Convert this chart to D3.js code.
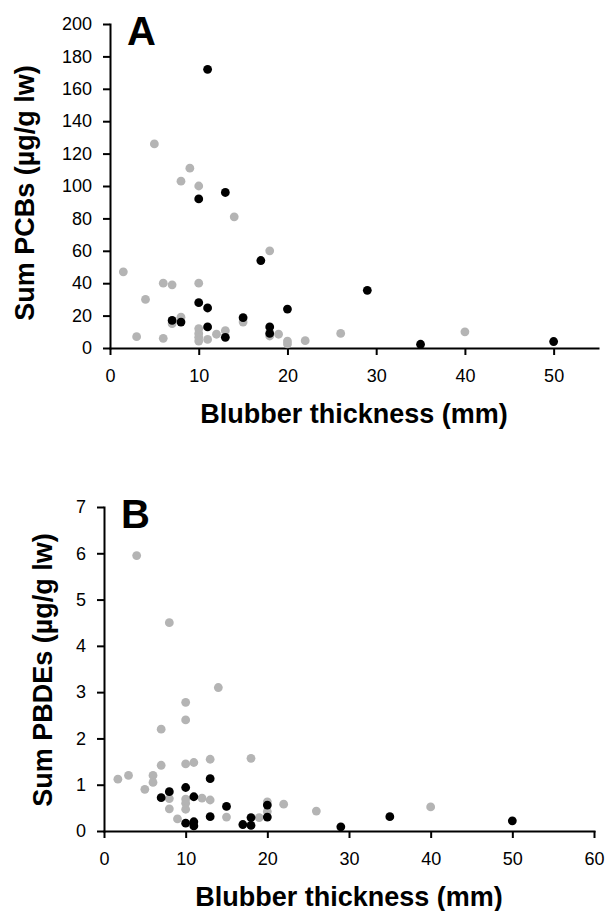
<!DOCTYPE html>
<html lang='en'>
<head>
    <meta charset='UTF-8'>
    <script src='https://d3js.org/d3.v7.min.js'></script>
    <title>Blubber thickness vs PCBs and PBDEs</title>
    <style>
      body { margin: 0; background: white; }
      text { font-family: 'Liberation Sans', Arial, sans-serif; fill: black; }
      .axis path, .axis line { stroke: black; stroke-width: 2px; }
      .axis text { font-size: 18px; }
    </style>
</head>

<body>
<svg id='chart' width='605' height='911'></svg>

<script>
// panel A: sum PCBs (ug/g lw) against blubber thickness (mm)
let pcbGrey = [[1.5,47],[3,7],[4,30],[5,126],[6,40],[6,6],[7,39],[7,15],[8,103],[8,19],
  [9,111],[10,100],[10,40],[10,12],[10,9],[10,6.6],[10,4.3],[11,5.3],[12,8.5],[13,10.7],
  [14,81],[15,16],[18,60],[18,7.4],[19,8.5],[20,4.3],[20,2.5],[22,4.5],[26,9],[40,10]]
let pcbBlack = [[7,17],[8,16],[10,92],[10,28],[11,172],[11,24.7],[11,13],[13,96],[13,6.6],
  [15,18.7],[17,54],[18,13],[18,9],[20,24],[29,35.6],[35,2.3],[50,4]]

// panel B: sum PBDEs (ug/g lw)
let pbdeGrey = [[1.7,1.12],[3,1.2],[4,5.95],[5,0.9],[6,1.2],[6,1.05],[7,2.2],[7,1.42],[8,4.5],
  [8,0.7],[8,0.48],[9,0.26],[10,2.78],[10,2.4],[10,1.45],[10,0.69],[10,0.6],[10,0.47],[11,1.48],
  [12,0.71],[13,1.55],[13,0.67],[14,3.1],[15,0.3],[18,1.57],[19,0.29],[20,0.63],[20,0.42],
  [22,0.58],[26,0.43],[40,0.52]]
let pbdeBlack = [[7,0.72],[8,0.85],[10,0.94],[10,0.17],[11,0.74],[11,0.2],[11,0.11],[13,1.13],
  [13,0.31],[15,0.53],[17,0.14],[18,0.29],[18,0.12],[20,0.56],[20,0.3],[29,0.09],[35,0.31],[50,0.22]]

let pcbXTicks = [0,10,20,30,40,50]
let pcbYTicks = [0,20,40,60,80,100,120,140,160,180,200]
let pbdeXTicks = [0,10,20,30,40,50,60]
let pbdeYTicks = [0,1,2,3,4,5,6,7]

let svg = d3.select('#chart')

function panel(opt) {
  let x = d3.scaleLinear().domain(opt.xDomain).range([opt.left, opt.right])
  let y = d3.scaleLinear().domain(opt.yDomain).range([opt.bottom, opt.top])
  let g = svg.append('g')

  g.append('g').attr('class', 'axis')
    .attr('transform', `translate(0,${opt.bottom})`)
    .call(d3.axisBottom(x).tickValues(opt.xTicks).tickFormat(d3.format('d'))
      .tickSize(7).tickSizeOuter(0).tickPadding(14))
  g.append('g').attr('class', 'axis')
    .attr('transform', `translate(${opt.left},0)`)
    .call(d3.axisLeft(y).tickValues(opt.yTicks).tickFormat(d3.format('d'))
      .tickSize(7).tickSizeOuter(0).tickPadding(11))
  g.selectAll('.axis .domain').attr('stroke-linecap', 'square')
  g.selectAll('.axis text').attr('font-family', null).attr('font-size', null)

  // grey first so the black dots sit on top
  g.selectAll('circle.grey').data(opt.grey).enter().append('circle')
    .attr('class', 'grey')
    .attr('r', 4.4)
    .attr('cx', d => x(d[0]))
    .attr('cy', d => y(d[1]))
    .style('fill', '#b4b4b4')
  g.selectAll('circle.black').data(opt.black).enter().append('circle')
    .attr('class', 'black')
    .attr('r', 4.4)
    .attr('cx', d => x(d[0]))
    .attr('cy', d => y(d[1]))
    .style('fill', 'black')

  g.append('text').text(opt.letter)
    .attr('x', opt.left + 17).attr('y', opt.letterY)
    .style('font-size', '40px').style('font-weight', 'bold')

  g.append('text').text('Blubber thickness (mm)')
    .attr('x', (opt.left + opt.right) / 2).attr('y', opt.bottom + 75)
    .attr('text-anchor', 'middle')
    .style('font-size', '27px').style('font-weight', 'bold')

  g.append('text').text(opt.yTitle)
    .attr('transform', `translate(${opt.yTitleX},${opt.yTitleY}) rotate(-90)`)
    .attr('text-anchor', 'middle')
    .style('font-size', '27px').style('font-weight', 'bold')
}

panel({letter: 'A', letterY: 45, yTitle: 'Sum PCBs (\u00b5g/g lw)', yTitleX: 34, yTitleY: 193,
  left: 110, right: 598, top: 24, bottom: 348,
  xDomain: [0,55], yDomain: [0,200], xTicks: pcbXTicks, yTicks: pcbYTicks,
  grey: pcbGrey, black: pcbBlack})

panel({letter: 'B', letterY: 528, yTitle: 'Sum PBDEs (\u00b5g/g lw)', yTitleX: 52, yTitleY: 670,
  left: 104, right: 594, top: 507, bottom: 831,
  xDomain: [0,60], yDomain: [0,7], xTicks: pbdeXTicks, yTicks: pbdeYTicks,
  grey: pbdeGrey, black: pbdeBlack})
</script>

</body>
</html>
